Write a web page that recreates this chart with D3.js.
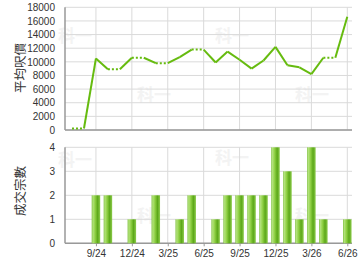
<!DOCTYPE html>
<html lang="zh-HK">
<head>
    <meta charset="UTF-8">
    <title>平均呎價 / 成交宗數</title>
    <script src="https://d3js.org/d3.v7.min.js"></script>
    <style>
        body { margin: 0; background: #fff; }
        svg { display: block; }
        .tick text { font-family: "Liberation Sans", Arial, sans-serif; font-size: 10px; fill: #333; }
        .ytitle { font-family: "Noto Sans CJK TC", sans-serif; font-size: 12.5px; fill: #333; }
        .wm { font-family: "Noto Sans CJK TC", sans-serif; font-size: 17px; font-weight: bold; fill: #f3f3f3; }
    </style>
</head>
<body>
<div id="chart"></div>
<script>
    // monthly data, 7/24 .. 6/26
    const months = ["7/24","8/24","9/24","10/24","11/24","12/24","1/25","2/25","3/25","4/25","5/25","6/25",
                    "7/25","8/25","9/25","10/25","11/25","12/25","1/26","2/26","3/26","4/26","5/26","6/26"];
    // average price per sq ft, null = no deal that month
    const avgPrice = [null, null, 10500, 8900, null, 10600, null, 9800, null, 10700, 11800, null,
                      9900, 11500, 10300, 9000, 10200, 12200, 9500, 9200, 8200, 10600, null, 16600];
    // number of deals
    const dealCount = [0, 0, 2, 2, 0, 1, 0, 2, 0, 1, 2, 0,
                       1, 2, 2, 2, 2, 4, 3, 1, 4, 1, 0, 1];
    const tickMonths = ["9/24","12/24","3/25","6/25","9/25","12/25","3/26","6/26"];
    const priceTicks = d3.range(0, 18001, 2000);
    const countTicks = [0, 1, 2, 3, 4];

    const width = 360, height = 270;
    const left = 65, right = 352;

    const svg = d3.select("#chart").append("svg")
        .attr("width", width)
        .attr("height", height);

    // gradient for the bars
    const grad = svg.append("defs").append("linearGradient")
        .attr("id", "barGrad")
        .attr("x1", "0%").attr("x2", "100%").attr("y1", "0%").attr("y2", "0%");
    [["0%", "#7cbf3c"], ["15%", "#b2e27a"], ["40%", "#8fd044"], ["70%", "#5ca819"], ["100%", "#8ccb4c"]]
        .forEach(s => grad.append("stop").attr("offset", s[0]).attr("stop-color", s[1]));

    const x = d3.scaleLinear()
        .domain([0, months.length - 1])
        .range([72, 347.3]);
    const tickIdx = tickMonths.map(m => months.indexOf(m));

    const yPrice = d3.scaleLinear().domain([0, 18000]).range([130, 7.3]);
    const yCount = d3.scaleLinear().domain([0, 4]).range([243.3, 147.3]);

    // faint watermarks
    const marks = [[58, 42], [137, 101], [215, 42], [295, 101], [58, 166], [137, 222], [215, 164], [295, 222]];
    svg.selectAll(".wm").data(marks).enter()
        .append("text")
        .attr("class", "wm")
        .attr("x", d => d[0])
        .attr("y", d => d[1])
        .text("科一");

    function drawFrame(y, ticks, top, bottom, showX) {
        // horizontal grid
        svg.append("g").selectAll("line").data(ticks).enter()
            .append("line")
            .attr("x1", left).attr("x2", right)
            .attr("y1", d => y(d)).attr("y2", d => y(d))
            .attr("stroke", "#dadada");
        // vertical grid
        svg.append("g").selectAll("line").data(tickIdx).enter()
            .append("line")
            .attr("x1", d => x(d)).attr("x2", d => x(d))
            .attr("y1", top).attr("y2", bottom)
            .attr("stroke", "#dadada");

        const yAxis = svg.append("g")
            .attr("transform", `translate(${left},0)`)
            .call(d3.axisLeft(y).tickValues(ticks).tickSize(0).tickPadding(10).tickFormat(d3.format("d")));
        yAxis.select(".domain").remove();

        const xAxis = svg.append("g")
            .attr("transform", `translate(0,${bottom})`)
            .call(d3.axisBottom(x).tickValues(tickIdx).tickSize(showX ? 3 : 0).tickPadding(4)
                .tickFormat(showX ? (d => months[d]) : ""));
        xAxis.select(".domain").remove();
        xAxis.selectAll(".tick line").attr("stroke", "#999");

        // axis lines
        svg.append("line")
            .attr("x1", left).attr("x2", left).attr("y1", top).attr("y2", bottom)
            .attr("stroke", "#999").attr("stroke-width", 1.5);
        svg.append("line")
            .attr("x1", left).attr("x2", right).attr("y1", bottom).attr("y2", bottom)
            .attr("stroke", "#999").attr("stroke-width", 1.5);
    }

    drawFrame(yPrice, priceTicks, 7.3, 130, false);
    drawFrame(yCount, countTicks, 147.3, 243.3, true);

    // line: months without deals carry the last price and are drawn dotted
    let last = 0;
    const pts = avgPrice.map((v, i) => {
        if (v !== null) last = v;
        return {i: i, v: last, missing: v === null};
    });
    const segs = d3.pairs(pts);
    svg.append("g").selectAll("line").data(segs).enter()
        .append("line")
        .attr("x1", d => x(d[0].i)).attr("y1", d => yPrice(d[0].v) - (d[0].v === 0 ? 1.5 : 0))
        .attr("x2", d => x(d[1].i)).attr("y2", d => yPrice(d[1].v) - (d[1].v === 0 ? 1.5 : 0))
        .attr("stroke", "#66bb0f")
        .attr("stroke-width", 2)
        .attr("stroke-dasharray", d => d[1].missing ? "2,2" : null);

    // bars
    const barW = 8.5;
    svg.append("g").selectAll("rect").data(dealCount.map((c, i) => ({i: i, c: c})).filter(d => d.c > 0)).enter()
        .append("rect")
        .attr("x", d => x(d.i) - barW / 2)
        .attr("y", d => yCount(d.c))
        .attr("width", barW)
        .attr("height", d => yCount(0) - yCount(d.c))
        .attr("fill", "url(#barGrad)");

    // y titles
    svg.append("text")
        .attr("class", "ytitle")
        .attr("transform", "translate(25,68)rotate(-90)")
        .attr("text-anchor", "middle")
        .text("平均呎價");
    svg.append("text")
        .attr("class", "ytitle")
        .attr("transform", "translate(25,191)rotate(-90)")
        .attr("text-anchor", "middle")
        .text("成交宗數");
</script>
</body>
</html>
